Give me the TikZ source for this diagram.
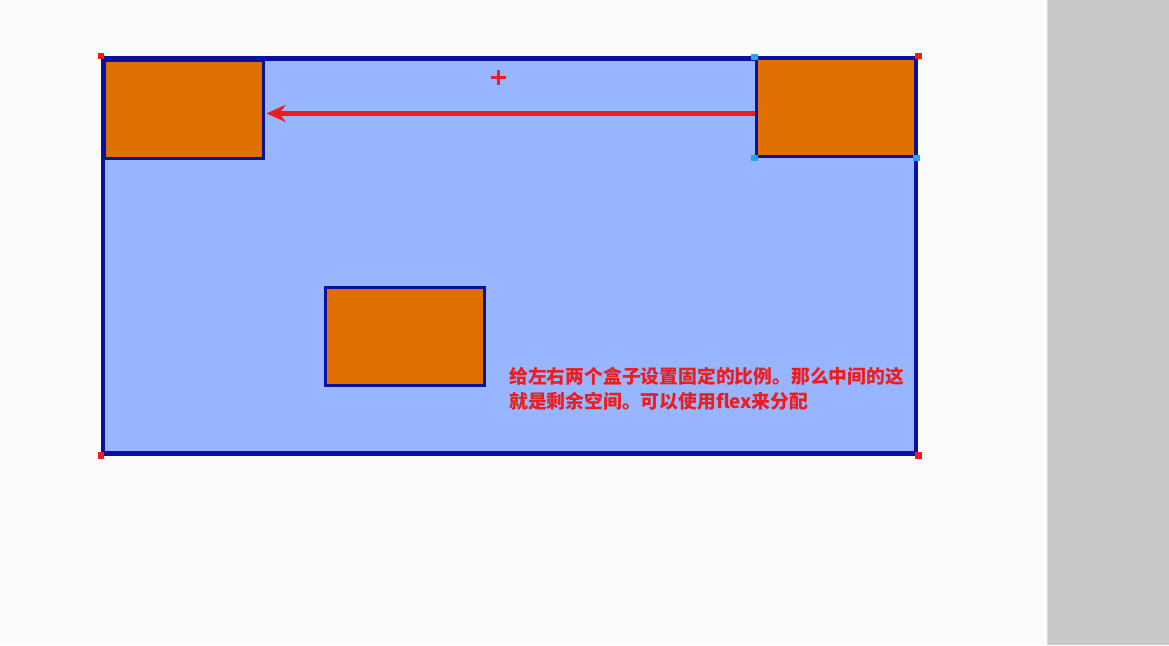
\documentclass[tikz,border=0pt]{standalone}
\usepackage{fontspec}
\newfontfamily\cjk{Noto Sans CJK SC}
\usepackage{tikz}
\usetikzlibrary{arrows,arrows.meta,positioning,calc,shapes}
\tikzset{>=latex}
\definecolor{pagebg}{HTML}{FAFBFA}
\definecolor{sidegray}{HTML}{C9CAC8}
\definecolor{boxblue}{HTML}{98B6FF}
\definecolor{navy}{HTML}{0A10A0}
\definecolor{boxorange}{HTML}{E07000}
\definecolor{markred}{HTML}{EE1C1C}
\definecolor{markcyan}{HTML}{1EA8F0}
\tikzset{
  item/.style={draw=navy,fill=boxorange,line width=3pt,minimum width=159pt,minimum height=98pt,inner sep=0pt},
  handle/.style={fill=#1,minimum size=6.5pt,inner sep=0pt}
}

\begin{document}
\begin{tikzpicture}[x=1pt,y=-1pt]

\fill[pagebg] (0,0) rectangle (1047,645);
\fill[sidegray] (1047,0) rectangle (1169,645);
\draw[line width=0.8pt,color=gray!30] (1047,0) -- (1047,645);
\useasboundingbox (0,0) rectangle (1169,645);

\node [draw=navy,fill=boxblue,line width=4.5pt,minimum width=813pt,minimum height=395pt,inner sep=0pt] (outer) at (509.5,255.5) {};

\node [item] (lbox) at (183.5,109.5) {};
\node [item] (rbox) at (835.5,107) {};
\node [item] (mbox) at (405,336) {};

% cursor mark
\coordinate (plus) at (498,77.5);
\draw[color=markred,line width=3pt] ($(plus)+(-7.5,0)$) -- ($(plus)+(7.5,0)$);
\draw[color=markred,line width=3pt] ($(plus)+(0,-7.5)$) -- ($(plus)+(0,7.5)$);

\coordinate (tail) at ($(rbox.west)+(0,6)$);
\begin{scope}[line width=4.5pt,shorten >= 2pt]
\draw[-{Stealth[length=19pt,width=17pt,inset=6pt]},color=markred] (tail) to (tail -| lbox.east);
\end{scope}

\node [align=left,anchor=north west,text=markred,font=\cjk\bfseries\fontsize{18.8pt}{25pt}\selectfont,inner sep=0pt] (note) at (509,366)
  {给左右两个盒子设置固定的比例。那么中间的这\\就是剩余空间。可以使用flex来分配};

\node [handle=markred] (c1) at (outer.north west) {};
\node [handle=markred] (c2) at (outer.north east) {};
\node [handle=markred] (c3) at (outer.south west) {};
\node [handle=markred] (c4) at (outer.south east) {};
\node [handle=markcyan] (h1) at (rbox.north west) {};
\node [handle=markcyan] (h2) at (rbox.south west) {};
\node [handle=markcyan] (h3) at (rbox.south east) {};

\end{tikzpicture}
\end{document}
